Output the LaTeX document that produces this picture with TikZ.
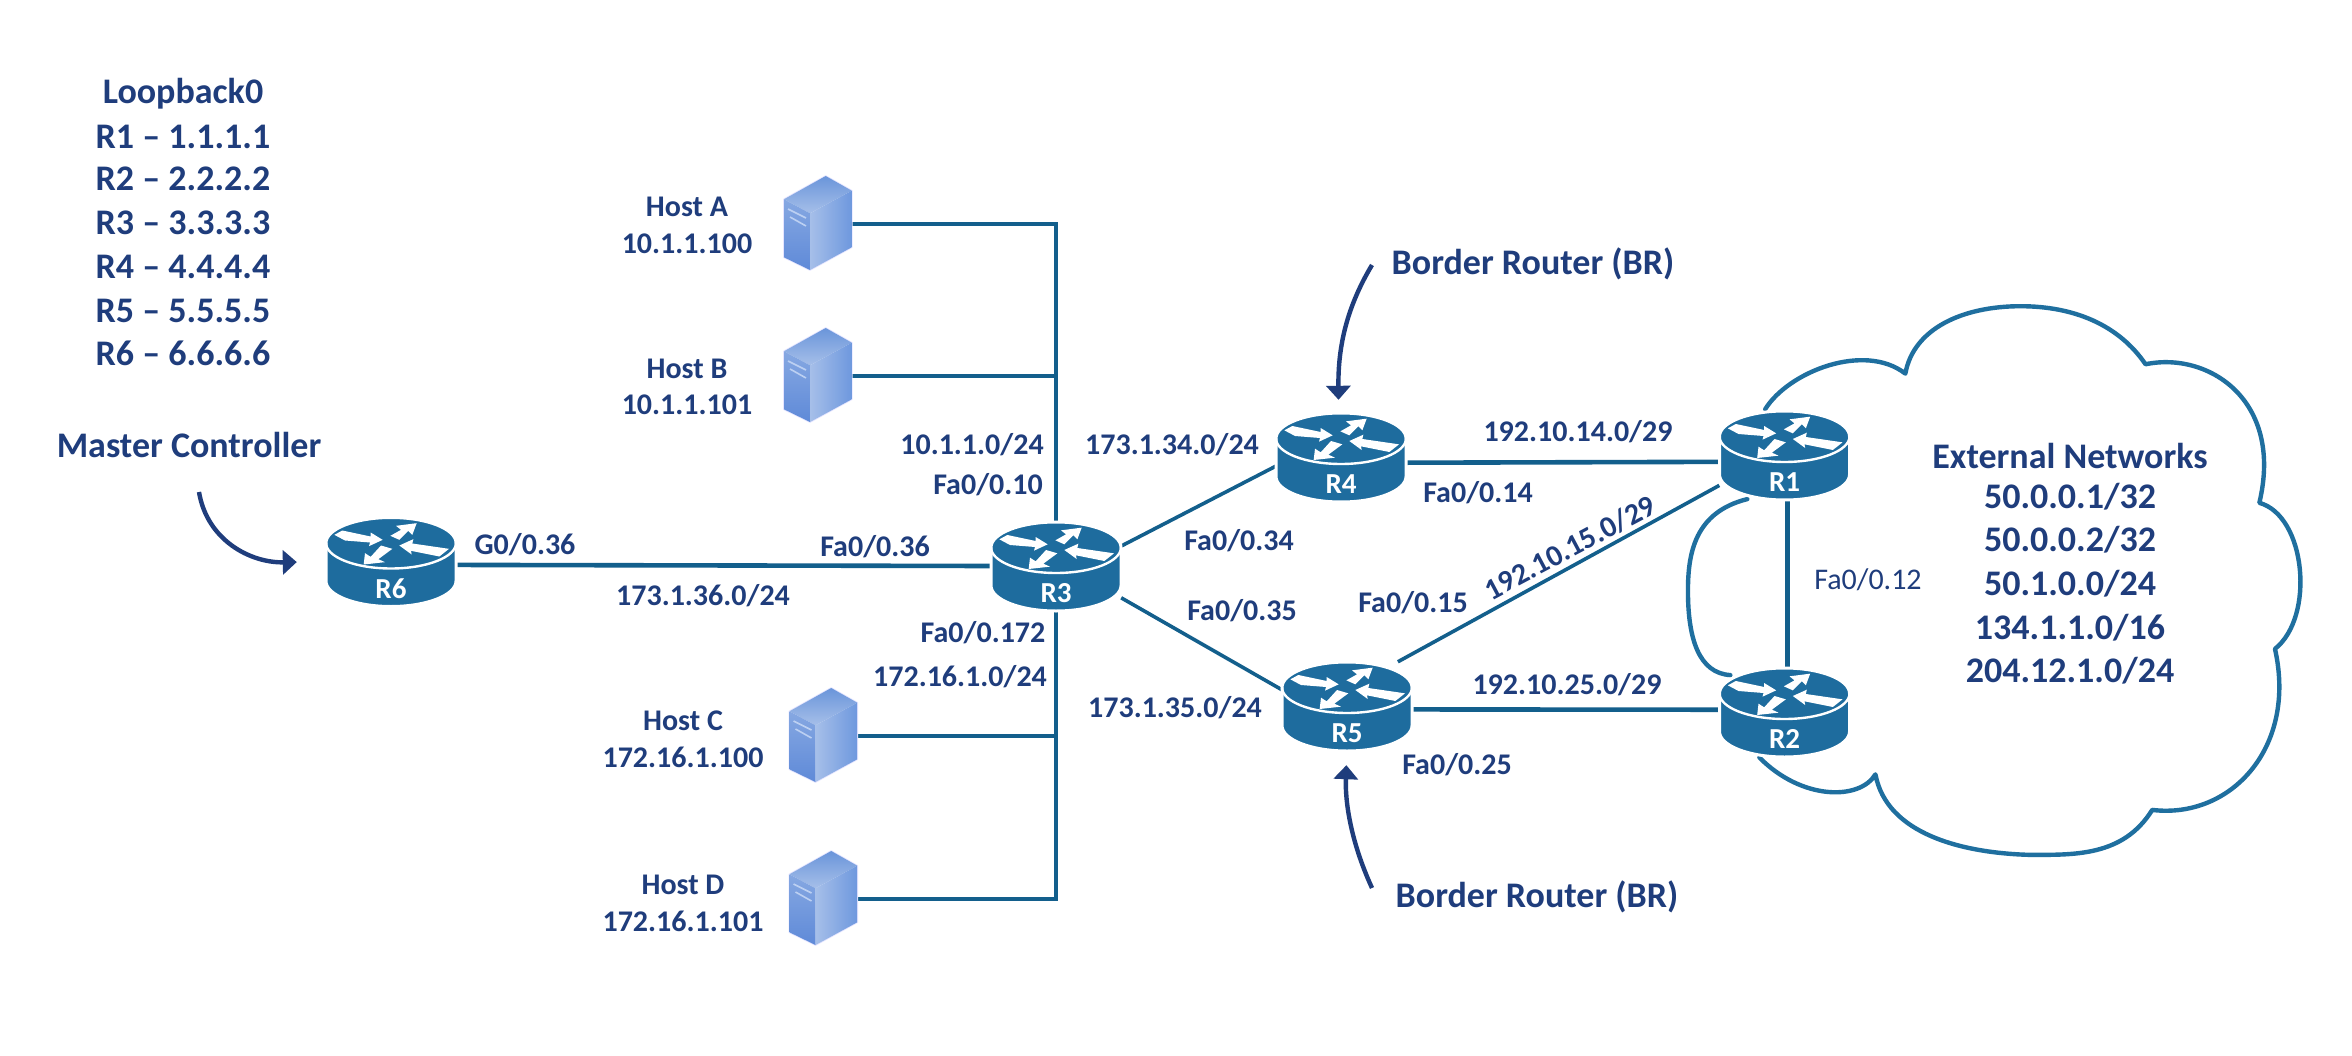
\documentclass[tikz,border=0pt]{standalone}
\usepackage{fontspec}
\setmainfont{Carlito}
\usetikzlibrary{arrows.meta}
\definecolor{navy}{HTML}{1F3D7C}
\definecolor{linkblue}{HTML}{135F8C}
\definecolor{routerblue}{HTML}{1E6C9E}
\definecolor{cloudblue}{HTML}{1F6F9F}
\tikzset{
  x=1pt,y=-1pt,
  lab/.style={text=navy,inner sep=0pt,font=\fontsize{30}{33}\selectfont\bfseries},
  labthin/.style={text=navy,inner sep=0pt,font=\fontsize{30}{33}\selectfont},
  biglab/.style={text=navy,inner sep=0pt,font=\fontsize{36}{39}\selectfont\bfseries},
  routerspot/.style={inner sep=0pt,minimum width=130pt,minimum height=88pt},
  hostspot/.style={inner sep=0pt,minimum width=68pt,minimum height=94pt},
  routerlab/.style={text=white,inner sep=0pt,font=\fontsize{29}{32}\selectfont\bfseries},
  link/.style={draw=linkblue,line width=4.6pt},
  slimlink/.style={draw=linkblue,line width=3.6pt},
  pointer/.style={draw=navy,line width=4.4pt,-{Triangle[length=14pt,width=24pt]}},
  cloudline/.style={draw=cloudblue,line width=4.4pt,line join=round,line cap=round},
}
\newcommand{\routericon}[2]{%
  \begin{scope}[shift={(#1.center)}]
    \path[fill=routerblue,draw=white,line width=3pt]
      (-65,-18.5) .. controls (-65,-32.5) and (-36,-44) .. (0,-44)
      .. controls (36,-44) and (65,-32.5) .. (65,-18.5) -- (65,19.5)
      .. controls (65,33.5) and (36,45) .. (0,45)
      .. controls (-36,45) and (-65,33.5) .. (-65,19.5) -- cycle;
    \draw[white,line width=2.4pt] (-65,-18.5) .. controls (-65,-4.5) and (-36,7) .. (0,7)
      .. controls (36,7) and (65,-4.5) .. (65,-18.5);
    \begin{scope}[x=.3333pt,y=-.3333pt,shift={(-273,-245)}]
      \fill[white] (103,165)--(127,152)--(212,170)--(212,158)--(248,180)--(207,199)--(210,188)--(135,182)--cycle;
      \fill[white] (271,168)--(303,150)--(288,138)--(350,130)--(337,165)--(325,153)--(298,180)--cycle;
      \fill[white] (298,197)--(340,178)--(337,191)--(447,207)--(418,230)--(333,213)--(335,224)--cycle;
      \fill[white] (191,254)--(195,220)--(212,231)--(243,197)--(277,207)--(235,238)--(255,247)--cycle;
    \end{scope}
  \end{scope}
  \node[routerlab] (#1lab) at ([yshift=-27pt]#1.center) {#2};
}
\newcommand{\hosticon}[1]{%
  \begin{scope}[shift={(#1.center)}]
    \draw[draw=white!70!blue!35,line width=1.6pt,line join=round] (7.7,-48)--(33.7,-33.3)--(33.7,23.3)--(-8,46)--(-34,33.3)--(-34,-24.7)--cycle;
    \shade[top color=hosttop,bottom color=hostlight] (7.7,-48)--(33.7,-33.3)--(-8,-10.7)--(-34,-24.7)--cycle;
    \shade[top color=hostleftA,bottom color=hostleftB] (-34,-24.7)--(-8,-10.7)--(-8,46)--(-34,33.3)--cycle;
    \shade[left color=hostlight,right color=hostright] (-8,-10.7)--(33.7,-33.3)--(33.7,23.3)--(-8,46)--cycle;
    \draw[hostslot,line width=1.6pt] (-30,-15)--(-12,-6) (-28,-7)--(-12,2);
  \end{scope}
}
\definecolor{hosttop}{HTML}{6A95DA}
\definecolor{hostlight}{HTML}{A6BFE9}
\definecolor{hostleftA}{HTML}{86A8E2}
\definecolor{hostleftB}{HTML}{5F8AD8}
\definecolor{hostright}{HTML}{6E98DE}
\definecolor{hostslot}{HTML}{BCD0F2}
\begin{document}
\begin{tikzpicture}
\useasboundingbox (0,0) rectangle (2352,1056);
\fill[white] (0,0) rectangle (2352,1056);

% anchors of the devices
\node[routerspot] (R6) at (391,561.5) {};
\node[routerspot] (R3) at (1056,566) {};
\node[routerspot] (R4) at (1341,457) {};
\node[routerspot] (R5) at (1347,706) {};
\node[routerspot] (R1) at (1784.5,455) {};
\node[routerspot] (R2) at (1784.5,712) {};
\node[hostspot] (hostA) at (818,224) {};
\node[hostspot] (hostB) at (818,376) {};
\node[hostspot] (hostC) at (823.5,736) {};
\node[hostspot] (hostD) at (823.5,899) {};

% cloud
\begin{scope}[shift={(1650,280)},x=.4464pt,y=-.3745pt]
  \draw[cloudline] (258,345) .. controls (310,245) and (480,165) .. (572,250)
    .. controls (590,130) and (700,70) .. (830,70)
    .. controls (950,70) and (1050,120) .. (1110,225)
    .. controls (1250,190) and (1420,320) .. (1365,595)
    .. controls (1470,630) and (1490,900) .. (1400,985)
    .. controls (1450,1250) and (1300,1440) .. (1125,1415)
    .. controls (1060,1540) and (950,1535) .. (850,1535)
    .. controls (700,1530) and (530,1480) .. (505,1320)
    .. controls (470,1390) and (340,1390) .. (245,1275);
  \draw[cloudline] (218,585) .. controls (100,620) and (85,730) .. (85,830)
    .. controls (85,960) and (110,1050) .. (180,1055);
\end{scope}

% links
\draw[link] (R6.-3.5) -- (R3.west);
\draw[link] (hostA.east) -| (R3.north);
\draw[link] (hostB.east) -- (R3.north |- hostB.east);
\draw[link] (hostC.east) -- (R3.south |- hostC.east);
\draw[link] (hostD.east) -| (R3.south);
\draw[slimlink] (R3.17) -- (R4.188);
\draw[slimlink] (R3.-26) -- (R5.166);
\draw[link] (R4.-5) -- (R1.186);
\draw[link] (R5.-3.5) -- (R2.178);
\draw[slimlink] (R5.41) -- (R1.205.6);
\draw[link] (R1.-86) -- (R2.86);

% device icons
\routericon{R1}{R1}
\routericon{R2}{R2}
\routericon{R3}{R3}
\routericon{R4}{R4}
\routericon{R5}{R5}
\routericon{R6}{R6}
\hosticon{hostA}
\hosticon{hostB}
\hosticon{hostC}
\hosticon{hostD}

% pointers
\coordinate (mcfree) at (199,492);
\coordinate (brtop) at (1372,265);
\coordinate (brbot) at (1372,888);
\draw[pointer,shorten >=29pt] (mcfree) .. controls (207,540) and (250,563) .. (R6.west);
\draw[pointer,shorten >=13pt] (brtop) .. controls (1345,310) and (1338,350) .. (R4.93);
\draw[pointer,shorten >=15pt] (brbot) .. controls (1350,840) and (1345,800) .. (R5.south);

% left text
\node[biglab] (t0) at (183,94) {Loopback0};
\node[biglab] (t1) at (183,137) {R1 – 1.1.1.1};
\node[biglab] (t2) at (183,179) {R2 – 2.2.2.2};
\node[biglab] (t3) at (183,223) {R3 – 3.3.3.3};
\node[biglab] (t4) at (183,267) {R4 – 4.4.4.4};
\node[biglab] (t5) at (183,311) {R5 – 5.5.5.5};
\node[biglab] (t6) at (183,353) {R6 – 6.6.6.6};
\node[biglab] (mc) at (189,445) {Master Controller};

% hosts
\node[lab] (ha1) at (687,207) {Host A};
\node[lab] (ha2) at (687,244) {10.1.1.100};
\node[lab] (hb1) at (687,369) {Host B};
\node[lab] (hb2) at (687,405) {10.1.1.101};
\node[lab] (hc1) at (683,721) {Host C};
\node[lab] (hc2) at (683,757) {172.16.1.100};
\node[lab] (hd1) at (683,885) {Host D};
\node[lab] (hd2) at (683,921) {172.16.1.101};

% link labels
\node[lab] (l1) at (972,445) {10.1.1.0/24};
\node[lab] (l2) at (988,485) {Fa0/0.10};
\node[lab] (l3) at (1172,445) {173.1.34.0/24};
\node[lab] (l4) at (525,545) {G0/0.36};
\node[lab] (l5) at (875,547) {Fa0/0.36};
\node[lab] (l6) at (703,596) {173.1.36.0/24};
\node[lab] (l7) at (1239,541) {Fa0/0.34};
\node[lab] (l8) at (1242,611) {Fa0/0.35};
\node[lab] (l9) at (983,633) {Fa0/0.172};
\node[lab] (l10) at (960,677) {172.16.1.0/24};
\node[lab] (l11) at (1175,708) {173.1.35.0/24};
\node[lab] (l12) at (1413,603) {Fa0/0.15};
\node[lab,rotate=28] (l13) at (1570,548) {192.10.15.0/29};
\node[lab] (l14) at (1578,432) {192.10.14.0/29};
\node[lab] (l15) at (1478,493) {Fa0/0.14};
\node[lab] (l16) at (1567,685) {192.10.25.0/29};
\node[lab] (l17) at (1457,765) {Fa0/0.25};
\node[labthin] (l18) at (1868,580) {Fa0/0.12};

\node[biglab] (br1) at (1533,264) {Border Router (BR)};
\node[biglab] (br2) at (1537,897) {Border Router (BR)};

% external networks
\node[biglab] (e0) at (2070,456) {External Networks};
\node[biglab] (e1) at (2070,497) {50.0.0.1/32};
\node[biglab] (e2) at (2070,540) {50.0.0.2/32};
\node[biglab] (e3) at (2070,584) {50.1.0.0/24};
\node[biglab] (e4) at (2070,628) {134.1.1.0/16};
\node[biglab] (e5) at (2070,671) {204.12.1.0/24};
\end{tikzpicture}
\end{document}
